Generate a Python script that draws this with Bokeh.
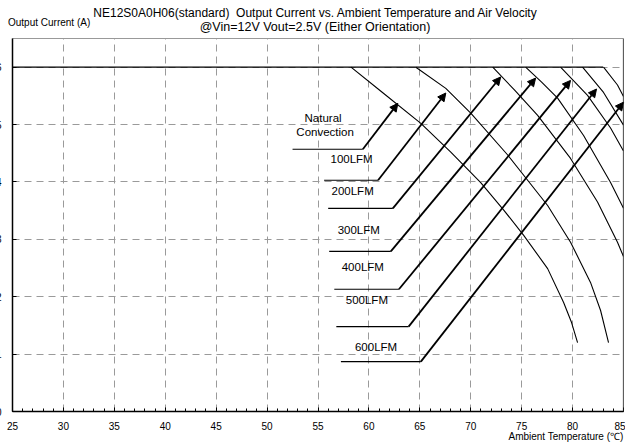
from bokeh.plotting import figure
from bokeh.models import Range1d, Label, Arrow, NormalHead, FixedTicker, Title, Div, Span
from bokeh.layouts import column
from bokeh.embed import file_html
from bokeh.resources import INLINE

FONT = "Liberation Sans"

# ---- data ----
x_ticks = [25, 30, 35, 40, 45, 50, 55, 60, 65, 70, 75, 80, 85]
y_ticks = [0, 1, 2, 3, 4, 5, 6]
max_current = 6.0
plateau_end = 83.0

nat_T = [58.24, 61.18, 65.1, 68.04, 70.98, 73.24, 75.2, 77.55, 79.12, 79.9, 80.49]
nat_I = [6.0, 5.58, 5.02, 4.52, 3.99, 3.51, 3.07, 2.49, 1.9, 1.55, 1.2]
lfm100_T = [64.61, 67.55, 70.0, 73.63, 77.55, 79.8, 81.76, 82.75, 83.53]
lfm100_I = [6.0, 5.63, 5.2, 4.47, 3.59, 2.95, 2.25, 1.76, 1.2]
lfm200_T = [72.16, 74.31, 76.57, 79.8, 82.45, 84.41, 85.0]
lfm200_I = [6.0, 5.6, 5.16, 4.41, 3.65, 2.95, 2.7]
lfm300_T = [75.39, 76.96, 78.53, 81.08, 83.73, 85.0]
lfm300_I = [6.0, 5.74, 5.46, 4.81, 3.99, 3.54]
lfm400_T = [78.82, 81.47, 83.73, 85.0]
lfm400_I = [6.0, 5.51, 4.94, 4.54]
lfm500_T = [80.98, 83.04, 85.0]
lfm500_I = [6.0, 5.56, 4.99]
lfm600_T = [83.04, 84.41, 85.0]
lfm600_I = [6.0, 5.69, 5.49]

curves_T = [nat_T, lfm100_T, lfm200_T, lfm300_T, lfm400_T, lfm500_T, lfm600_T]
curves_I = [nat_I, lfm100_I, lfm200_I, lfm300_I, lfm400_I, lfm500_I, lfm600_I]

# leader lines: horizontal start, knee, arrow tip
lead_x0 = [52.5, 55.6, 56.0, 56.1, 56.6, 56.8, 57.25]
lead_x1 = [59.4, 60.9, 62.35, 62.15, 62.95, 63.9, 65.1]
lead_y = [4.57, 4.03, 3.54, 2.79, 2.13, 1.48, 0.87]
tip_x = [62.84, 67.55, 72.94, 76.37, 79.8, 82.35, 85.0]
tip_y = [5.37, 5.55, 5.83, 5.81, 5.77, 5.62, 5.39]

lab_text = ["Natural", "Convection", "100LFM", "200LFM", "300LFM", "400LFM", "500LFM", "600LFM"]
lab_x = [55.5, 55.7, 58.3, 58.4, 59.0, 59.4, 59.8, 60.7]
lab_y = [5.11, 4.87, 4.40, 3.85, 3.16, 2.51, 1.95, 1.13]

title1 = "NE12S0A0H06(standard)&nbsp; Output Current vs. Ambient Temperature and Air Velocity"
title2 = "@Vin=12V Vout=2.5V (Either Orientation)"
y_title = "Output Current (A)"
x_title = "Ambient Temperature (\u2103)"

# ---- header texts (outside the plot frame) ----
span = "position:absolute;white-space:nowrap;color:#000;font-family:'Liberation Sans',Arial,sans-serif;"
header_html = (
    '<div style="position:relative;width:633px;height:34px;overflow:visible;">'
    f'<span style="{span}left:323px;top:6px;transform:translateX(-50%);font-size:12px;line-height:14px;">{title1}</span>'
    f'<span style="{span}left:323px;top:20px;transform:translateX(-50%);font-size:12.5px;line-height:14px;">{title2}</span>'
    f'<span style="{span}left:16px;top:17px;font-size:10px;line-height:11px;">{y_title}</span>'
    '</div>'
)
header = Div(text=header_html, width=633, height=34, margin=(0, 0, 0, 0))

# ---- figure ----
p = figure(width=633, height=409, x_range=Range1d(25, 85), y_range=Range1d(0, 6.5),
           output_backend="svg", toolbar_location=None,
           min_border_left=0, min_border_right=2, min_border_top=4, min_border_bottom=32)
p.background_fill_color = "white"
p.border_fill_color = "white"
p.outline_line_color = "#999999"

# axes
p.xaxis.ticker = FixedTicker(ticks=x_ticks, minor_ticks=list(range(25, 86)))
p.yaxis.ticker = FixedTicker(ticks=y_ticks)
for ax in (p.xaxis[0], p.yaxis[0]):
    ax.axis_line_color = "black"
    ax.axis_line_width = 1.5
    ax.major_tick_line_color = "black"
    ax.major_tick_in = 4
    ax.major_tick_out = 0
    ax.major_label_text_font = FONT
    ax.major_label_text_font_size = "10px"
    ax.major_label_text_color = "black"
p.xaxis.minor_tick_line_color = "black"
p.xaxis.minor_tick_in = 3
p.xaxis.minor_tick_out = 0
p.yaxis.minor_tick_line_color = None
p.xaxis.major_label_standoff = 10
p.yaxis.major_label_standoff = 11

# x axis title, right aligned under the axis
p.add_layout(Title(text=x_title, align="right", vertical_align="top", offset=0, standoff=-4,
                   text_font=FONT, text_font_size="10px", text_font_style="normal",
                   text_color="black"), "below")

# grid
p.xgrid.ticker = FixedTicker(ticks=x_ticks[1:-1])
p.ygrid.ticker = FixedTicker(ticks=y_ticks[1:])
for g in (p.xgrid[0], p.ygrid[0]):
    g.grid_line_color = "#9a9a9a"
    g.grid_line_dash = "7 5"
    g.grid_line_width = 1

# right frame edge (dark, as in the reference)
p.add_layout(Span(location=x_ticks[-1], dimension="height", line_color="#222222", line_width=1.2))

# plateau
p.line([x_ticks[0], plateau_end], [max_current, max_current], line_color="black", line_width=1.3)

# derating curves
for T, I in zip(curves_T, curves_I):
    p.line(T, I, line_color="black", line_width=1.1)

# leader lines with arrows
for x0, x1, y, tx, ty in zip(lead_x0, lead_x1, lead_y, tip_x, tip_y):
    p.line([x0, x1], [y, y], line_color="black", line_width=1.2)
    p.add_layout(Arrow(x_start=x1, y_start=y, x_end=tx, y_end=ty, line_color="black", line_width=1.8,
                       end=NormalHead(size=8, fill_color="black", line_color="black")))

for t, x, y in zip(lab_text, lab_x, lab_y):
    p.add_layout(Label(x=x, y=y, text=t, text_align="center", text_baseline="middle",
                       text_font=FONT, text_font_size="11.5px", text_color="black"))

layout = column(header, p, spacing=0, margin=(0, 0, 0, -8))
open("out.html", "w").write(file_html(layout, INLINE))
